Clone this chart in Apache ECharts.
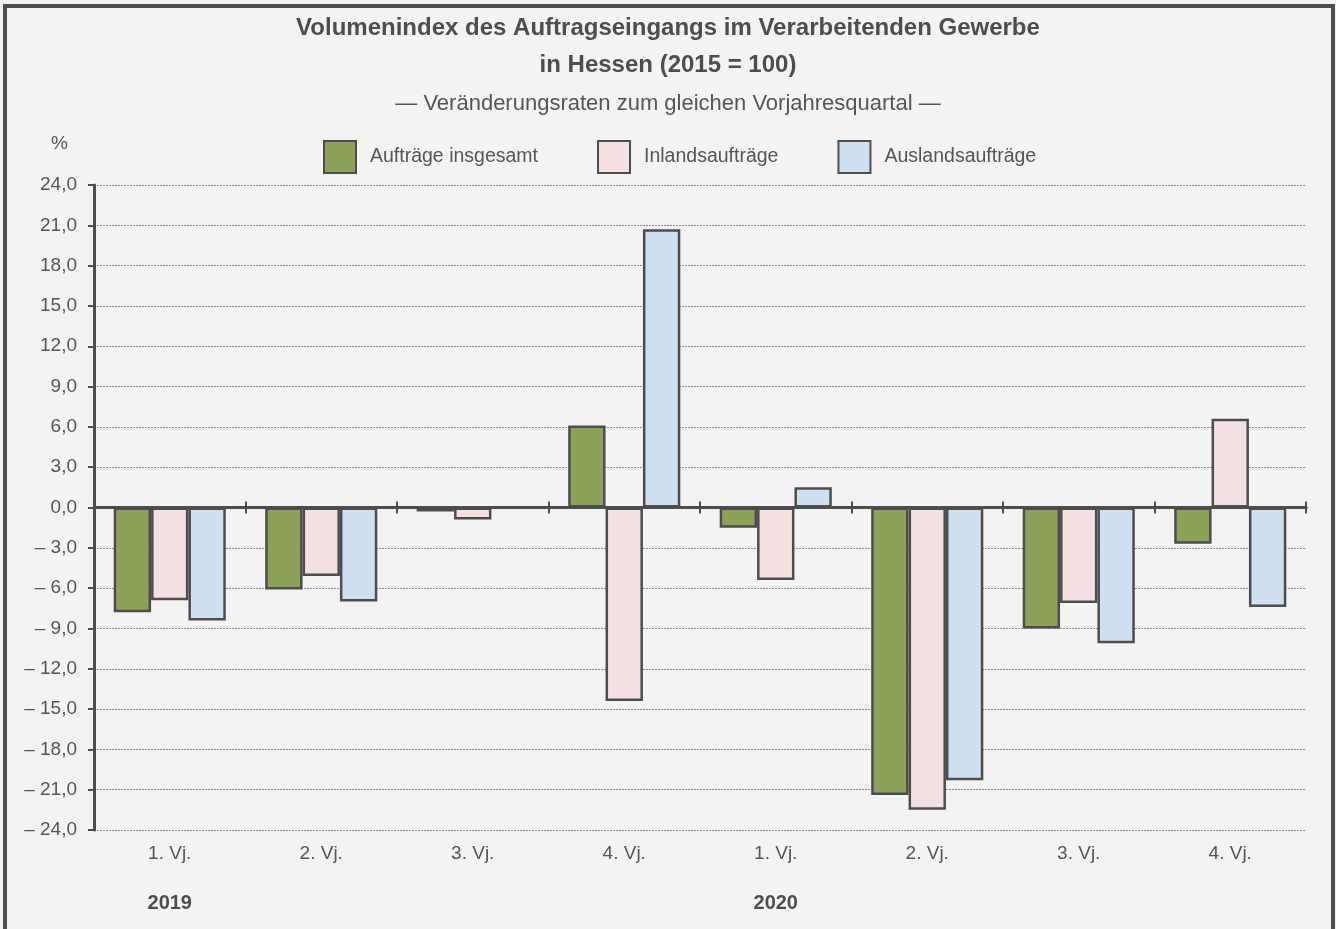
<!DOCTYPE html>
<html>
<head>
<meta charset="utf-8">
<script src="https://cdn.jsdelivr.net/npm/echarts@6/dist/echarts.min.js"></script>
<style>
  html, body { margin: 0; padding: 0; background: #f2f3f2; }
  #main { width: 1336px; height: 929px; }
</style>
</head>
<body>
<div id="main"></div>
<script>
var quartale = ['1. Vj.', '2. Vj.', '3. Vj.', '4. Vj.', '1. Vj.', '2. Vj.', '3. Vj.', '4. Vj.'];
var jahre = ['2019', '', '', '', '2020', '', '', ''];

// Veränderungsraten in %
var insgesamt = [-7.8, -6.1, -0.3, 6.1, -1.5, -21.4, -9.0, -2.7];
var inland = [-6.9, -5.1, -0.9, -14.4, -5.4, -22.5, -7.1, 6.6];
var ausland = [-8.4, -7.0, 0.0, 20.7, 1.5, -20.3, -10.1, -7.4];

var farben = ['#8da15a', '#f3e0e0', '#cfe0f1'];
var rahmen = '#4d4d4d';
var schrift = '"Liberation Sans", Arial, sans-serif';

var main_chart = echarts.init(document.getElementById('main'));

function fmt(v) {
    var s = Math.abs(v).toFixed(1).replace('.', ',');
    return v < 0 ? '\u2013 ' + s : s;
}

function bar_series(name, data, color) {
    return {
        name: name,
        type: 'bar',
        xAxisIndex: 0,
        yAxisIndex: 0,
        data: data,
        barGap: '0%',
        barCategoryGap: '26%',
        itemStyle: {
            color: color,
            borderColor: rahmen,
            borderWidth: 2.5
        }
    };
}

var grid_box = { left: 94, right: 30, top: 185, bottom: 99, containLabel: false };

var option = {
    backgroundColor: '#f2f3f2',
    animation: false,
    textStyle: { fontFamily: schrift },
    title: [
        {
            text: 'Volumenindex des Auftragseingangs im Verarbeitenden Gewerbe\nin Hessen (2015 = 100)',
            left: 'center',
            top: 5,
            textStyle: {
                fontFamily: schrift,
                fontSize: 24,
                fontWeight: 'bold',
                color: '#4d4d4d',
                lineHeight: 37
            }
        },
        {
            text: '\u2014 Veränderungsraten zum gleichen Vorjahresquartal \u2014',
            left: 'center',
            top: 88,
            textStyle: {
                fontFamily: schrift,
                fontSize: 22,
                fontWeight: 'normal',
                color: '#555'
            }
        }
    ],
    legend: {
        left: 318,
        top: 135,
        itemWidth: 32,
        itemHeight: 32,
        itemGap: 59,
        icon: 'rect',
        textStyle: { fontFamily: schrift, fontSize: 19.5, color: '#555', padding: [0, 0, 0, 9] },
        data: ['Aufträge insgesamt', 'Inlandsaufträge', 'Auslandsaufträge']
    },
    // zweites Gitter nur für die Striche nach oben an der Nulllinie
    grid: [grid_box, grid_box],
    graphic: [
        {
            type: 'text',
            left: 51,
            top: 134,
            style: { text: '%', font: '19px ' + schrift, fill: '#555' }
        },
        {
            type: 'rect',
            shape: { x: 5, y: 6, width: 1328, height: 1000 },
            style: { fill: null, stroke: rahmen, lineWidth: 4 },
            silent: true
        }
    ],
    xAxis: [
        {
            // Nulllinie mit Strichen nach unten
            type: 'category',
            gridIndex: 0,
            data: quartale,
            axisLine: { onZero: true, lineStyle: { color: rahmen, width: 3 } },
            axisTick: { show: true, length: 6, lineStyle: { color: rahmen, width: 2 } },
            axisLabel: { show: false },
            splitLine: { show: false }
        },
        {
            type: 'category',
            gridIndex: 0,
            position: 'bottom',
            data: quartale,
            axisLine: { show: false, onZero: false },
            axisTick: { show: false },
            axisLabel: { fontFamily: schrift, fontSize: 19, color: '#555', margin: 14 }
        },
        {
            type: 'category',
            gridIndex: 0,
            position: 'bottom',
            offset: 50,
            data: jahre,
            axisLine: { show: false, onZero: false },
            axisTick: { show: false },
            axisLabel: { fontFamily: schrift, fontSize: 20, fontWeight: 'bold', color: '#4d4d4d', margin: 13 }
        },
        {
            // Striche nach oben
            type: 'category',
            gridIndex: 1,
            data: quartale,
            axisLine: { show: true, onZero: true, lineStyle: { color: rahmen, width: 3 } },
            axisTick: { show: true, inside: true, length: 6, lineStyle: { color: rahmen, width: 2 } },
            axisLabel: { show: false }
        }
    ],
    yAxis: [
        {
            type: 'value',
            gridIndex: 0,
            min: -24,
            max: 24,
            interval: 3,
            axisLine: { show: true, lineStyle: { color: rahmen, width: 3 } },
            axisTick: { show: true, length: 6, lineStyle: { color: rahmen, width: 2 } },
            axisLabel: {
                formatter: fmt,
                fontFamily: schrift,
                fontSize: 19,
                color: '#555',
                margin: 17
            },
            splitLine: {
                lineStyle: { color: '#8a8a8a', width: 1, type: [2, 1] }
            }
        },
        {
            type: 'value',
            gridIndex: 1,
            min: -24,
            max: 24,
            interval: 3,
            axisLine: { show: false },
            axisTick: { show: false },
            axisLabel: { show: false },
            splitLine: { show: false }
        }
    ],
    series: [
        bar_series('Aufträge insgesamt', insgesamt, farben[0]),
        bar_series('Inlandsaufträge', inland, farben[1]),
        bar_series('Auslandsaufträge', ausland, farben[2])
    ]
};

main_chart.setOption(option);
</script>
</body>
</html>
